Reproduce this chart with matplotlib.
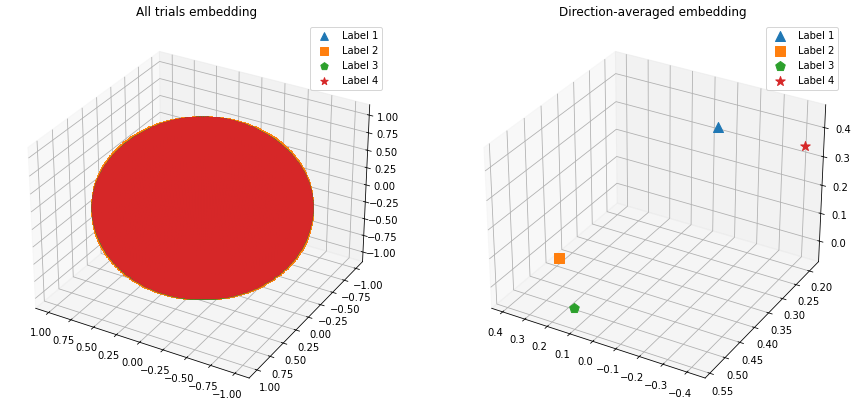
import numpy as np
import matplotlib
matplotlib.use("Agg")
import matplotlib.pyplot as plt

labels = ["Label 1", "Label 2", "Label 3", "Label 4"]
markers = ["^", "s", "p", "*"]
colors = ["tab:blue", "tab:orange", "tab:green", "tab:red"]

# all trials lie on the unit sphere (lat/lon sampling of the trials)
trial_lat_deg = np.linspace(-90, 90, 90)
trial_lon_deg = np.linspace(0, 360, 180, endpoint=False)

# direction-averaged embedding, one point per label
avg_x = [-0.175, 0.396, 0.105, -0.428]
avg_y = [0.295, 0.394, 0.547, 0.193]
avg_z = [0.448, -0.05, -0.005, 0.35]

fig = plt.figure(figsize=(859 / 72, 410 / 72), dpi=72)

ax1 = fig.add_axes([7 / 859, 4 / 410, 380 / 859, 388 / 410], projection="3d")
lat, lon = np.meshgrid(np.radians(trial_lat_deg), np.radians(trial_lon_deg))
sx = (np.cos(lat) * np.cos(lon)).ravel()
sy = (np.cos(lat) * np.sin(lon)).ravel()
sz = np.sin(lat).ravel()
for lab, m, c in zip(labels, markers, colors):
    ax1.scatter(sx, sy, sz, marker=m, color=c, s=60, label=lab, depthshade=False)
ax1.view_init(elev=30, azim=120)
ax1.set_title("All trials embedding")
ax1.legend(loc="upper right")

ax2 = fig.add_axes([463 / 859, 4 / 410, 380 / 859, 388 / 410], projection="3d")
for i in range(4):
    ax2.scatter(avg_x[i], avg_y[i], avg_z[i], marker=markers[i], color=colors[i],
                s=100, label=labels[i])
ax2.set_xlim(-0.475, 0.45)
ax2.set_ylim(0.165, 0.565)
ax2.set_zlim(-0.075, 0.478)
ax2.view_init(elev=30, azim=120)
ax2.set_title("Direction-averaged embedding")
ax2.legend(loc="upper right")

fig.savefig("out.png", dpi=72)
